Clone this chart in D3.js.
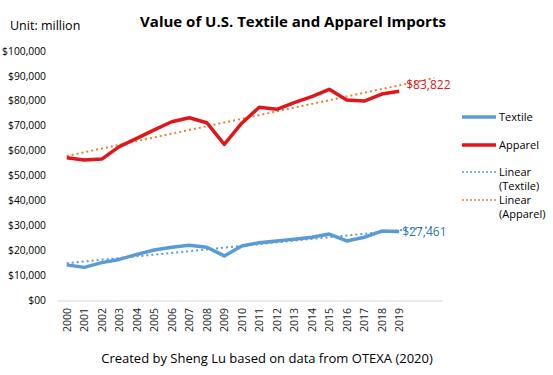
<!DOCTYPE html>
<html><head><meta charset="utf-8">
<script src="https://cdn.jsdelivr.net/npm/d3@7"></script>
<style>
html,body{margin:0;padding:0;background:#fff;}
text{font-family:"Open Sans","Liberation Sans",sans-serif;}
</style></head>
<body><svg id="c" width="553" height="375"></svg>
<script>
const years = ["2000","2001","2002","2003","2004","2005","2006","2007","2008","2009","2010","2011","2012","2013","2014","2015","2016","2017","2018","2019"];
const forecastSlots = ["2020","2021"];
const textile = [14100,13100,15000,16300,18300,20100,21200,22000,21200,17700,21700,23000,23700,24400,25200,26500,23700,25200,27700,27461];
const apparel = [57100,56200,56600,61600,64900,68300,71600,73200,71200,62500,71000,77400,76600,79300,81700,84600,80300,79900,82700,83822];
const yTicks = [0,10000,20000,30000,40000,50000,60000,70000,80000,90000,100000];
const yTickLabels = ["$00","$10,000","$20,000","$30,000","$40,000","$50,000","$60,000","$70,000","$80,000","$90,000","$100,000"];

const svg = d3.select("#c");
const x = d3.scaleBand().domain(years.concat(forecastSlots)).range([58,443]);
const y = d3.scaleLinear().domain([0,100000]).range([300,51]);
const cx = d => x(d) + x.bandwidth()/2;

// y tick labels
svg.append("g").selectAll("text").data(yTicks).join("text")
  .attr("x",46).attr("y",d=>y(d)).attr("dy","0.35em")
  .attr("text-anchor","end").attr("font-size","10.3px").attr("fill","#000")
  .text((d,i)=>yTickLabels[i]);

// x axis line
svg.append("line").attr("x1",58).attr("x2",443).attr("y1",y(0)+1).attr("y2",y(0)+1)
  .attr("stroke","#d9d9d9").attr("stroke-width",1);

// x tick labels
svg.append("g").selectAll("text").data(years).join("text")
  .attr("transform",d=>`translate(${cx(d)+4},${308}) rotate(-90)`)
  .attr("text-anchor","end").attr("font-size","10.5px").attr("fill","#222")
  .text(d=>d);

// trend lines
function trend(vals){
  const n = vals.length, xs = d3.range(n);
  const mx = d3.mean(xs), my = d3.mean(vals);
  const b = d3.sum(xs.map((xi,i)=>(xi-mx)*(vals[i]-my)))/d3.sum(xs.map(xi=>(xi-mx)**2));
  const a = my - b*mx;
  const all = years.concat(forecastSlots);
  return [[all[0], a],[all[all.length-1], a + b*(all.length-1)]];
}
const tline = d3.line().x(d=>cx(d[0])).y(d=>y(d[1]));
svg.append("path").attr("d",tline(trend(textile))).attr("fill","none")
  .attr("stroke","#5b9bd5").attr("stroke-width",2).attr("stroke-dasharray","2,3");
svg.append("path").attr("d",tline(trend(apparel))).attr("fill","none")
  .attr("stroke","#ed7d31").attr("stroke-width",2).attr("stroke-dasharray","2,3");

const line = d3.line().x((d,i)=>cx(years[i])).y(d=>y(d));
svg.append("path").attr("d",line(textile)).attr("fill","none")
  .attr("stroke","#5b9bd5").attr("stroke-width",3.5).attr("stroke-linejoin","round");
svg.append("path").attr("d",line(apparel)).attr("fill","none")
  .attr("stroke","#e0161b").attr("stroke-width",3.5).attr("stroke-linejoin","round");

// data labels
const fmt = d3.format("$,");
svg.append("text").attr("x",cx("2019")+7).attr("y",y(apparel[19])-6).attr("dy","0.35em")
  .attr("font-size","12px").attr("fill","#d01c1f").text(fmt(apparel[19]));
svg.append("text").attr("x",cx("2019")+3).attr("y",y(textile[19])).attr("dy","0.35em")
  .attr("font-size","12px").attr("fill","#2e75b6").text(fmt(textile[19]));

// legend
const legend = [
  {lines:["Textile"], color:"#5b9bd5", w:3.5, dash:null, y:117},
  {lines:["Apparel"], color:"#e0161b", w:3.5, dash:null, y:145},
  {lines:["Linear","(Textile)"], color:"#5b9bd5", w:1.5, dash:"2,2", y:172},
  {lines:["Linear","(Apparel)"], color:"#ed7d31", w:1.5, dash:"2,2", y:200}
];
const lg = svg.append("g").selectAll("g").data(legend).join("g");
lg.append("line").attr("x1",462).attr("x2",496).attr("y1",d=>d.y).attr("y2",d=>d.y)
  .attr("stroke",d=>d.color).attr("stroke-width",d=>d.w).attr("stroke-dasharray",d=>d.dash);
lg.each(function(d){
  d3.select(this).selectAll("text").data(d.lines).join("text")
    .attr("x",499).attr("y",(t,i)=>d.y+i*14).attr("dy","0.35em")
    .attr("font-size","11px").attr("fill","#000").text(t=>t);
});

// titles
svg.append("text").attr("x",293).attr("y",27).attr("text-anchor","middle")
  .attr("font-size","15px").attr("font-weight","bold").attr("fill","#000")
  .text("Value of U.S. Textile and Apparel Imports");
svg.append("text").attr("x",10).attr("y",30)
  .attr("font-size","12.5px").attr("fill","#000").text("Unit: million");
svg.append("text").attr("x",267).attr("y",363).attr("text-anchor","middle")
  .attr("font-size","13px").attr("fill","#000")
  .text("Created by Sheng Lu based on data from OTEXA (2020)");
</script></body></html>
